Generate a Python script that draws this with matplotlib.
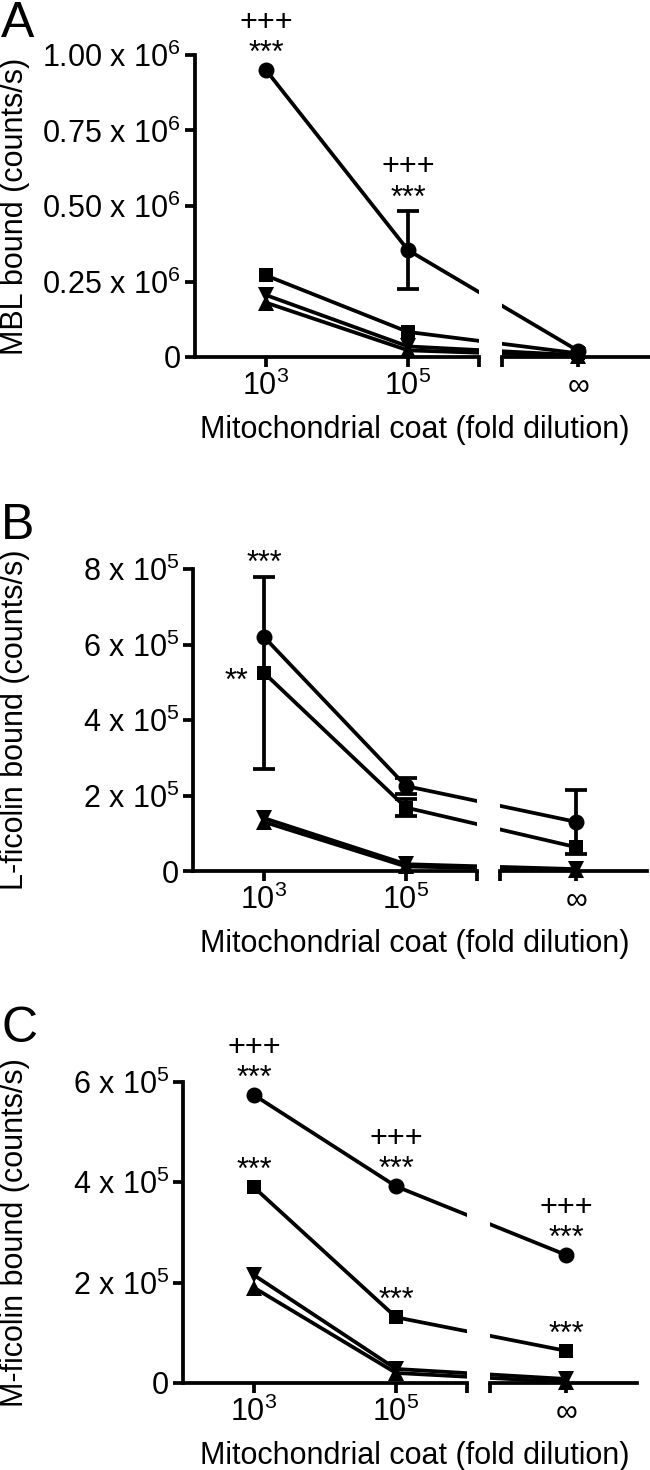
import matplotlib
matplotlib.use("Agg")
import matplotlib.pyplot as plt
import matplotlib.transforms as mtransforms

plt.rcParams["font.family"] = ["Liberation Sans", "DejaVu Sans"]
plt.rcParams["mathtext.fontset"] = "custom"
plt.rcParams["mathtext.rm"] = "Liberation Sans"
plt.rcParams["mathtext.it"] = "Liberation Sans:italic"
plt.rcParams["mathtext.bf"] = "Liberation Sans:bold"

# x positions in log10(fold dilution); the infinite dilution sits after the axis break
dilution_pos = [3, 5, 7.4]
dilution_labels = ["$10^3$", "$10^5$", "\u221e"]

# Panel A: MBL bound (counts/s)
mbl_circle = [0.95e6, 0.354e6, 0.02e6]
mbl_circle_err = [0, 0.128e6, 0]
mbl_square = [0.27e6, 0.083e6, 0.012e6]
mbl_tridown = [0.205e6, 0.035e6, 0.006e6]
mbl_triup = [0.18e6, 0.022e6, 0.003e6]
mbl_ticks = [0, 0.25e6, 0.5e6, 0.75e6, 1.0e6]
mbl_ticklabels = ["0", "0.25 x 10$^6$", "0.50 x 10$^6$", "0.75 x 10$^6$", "1.00 x 10$^6$"]

# Panel B: L-ficolin bound (counts/s)
lfc_circle = [6.2e5, 2.25e5, 1.3e5]
lfc_circle_err = [0, 0.22e5, 0.85e5]
lfc_square = [5.25e5, 1.68e5, 0.63e5]
lfc_square_err = [2.55e5, 0.22e5, 0]
lfc_tridown = [1.4e5, 0.18e5, 0.05e5]
lfc_triup = [1.3e5, 0.12e5, 0.03e5]
lfc_ticks = [0, 2e5, 4e5, 6e5, 8e5]
lfc_ticklabels = ["0", "2 x 10$^5$", "4 x 10$^5$", "6 x 10$^5$", "8 x 10$^5$"]

# Panel C: M-ficolin bound (counts/s)
mfc_circle = [5.74e5, 3.92e5, 2.55e5]
mfc_square = [3.9e5, 1.31e5, 0.64e5]
mfc_tridown = [2.15e5, 0.28e5, 0.08e5]
mfc_triup = [1.9e5, 0.2e5, 0.02e5]
mfc_ticks = [0, 2e5, 4e5, 6e5]
mfc_ticklabels = ["0", "2 x 10$^5$", "4 x 10$^5$", "6 x 10$^5$"]

FIG_W, FIG_H, DPI = 650, 1470, 100
X1_LIM = (2, 6)
X2_LIM = (6.33, 8.4)
PX_PER_UNIT = 71
LW = 2.7
FS = 22


def px2pt(px):
    return px * 72.0 / DPI


def make_axes(fig, left_px, zero_px, top_px, top_val):
    ylo, yhi = -0.07 * top_val, 1.03 * top_val
    s = (zero_px - top_px) / top_val
    bot_px = zero_px - ylo * s
    ax_top_px = top_px - (yhi - top_val) * s
    b = 1 - bot_px / FIG_H
    h = (bot_px - ax_top_px) / FIG_H
    w1 = (X1_LIM[1] - X1_LIM[0]) * PX_PER_UNIT / FIG_W
    left2 = left_px + (X2_LIM[0] - X1_LIM[0]) * PX_PER_UNIT
    w2 = (X2_LIM[1] - X2_LIM[0]) * PX_PER_UNIT / FIG_W
    ax1 = fig.add_axes([left_px / FIG_W, b, w1, h])
    ax2 = fig.add_axes([left2 / FIG_W, b, w2, h], sharey=ax1)
    ax1.set_ylim(ylo, yhi)
    ax1.set_xlim(*X1_LIM)
    ax2.set_xlim(*X2_LIM)
    for ax in (ax1, ax2):
        ax.patch.set_visible(False)
        for side in ("top", "right"):
            ax.spines[side].set_visible(False)
        ax.spines["bottom"].set_position(("data", 0))
        ax.spines["bottom"].set_linewidth(LW)
        ax.tick_params(direction="out", length=7, width=LW, labelsize=FS, pad=3)
    ax1.spines["left"].set_linewidth(LW)
    ax1.spines["left"].set_bounds(0, top_val)
    ax2.spines["left"].set_visible(False)
    ax2.tick_params(axis="y", left=False, labelleft=False)
    ax1.set_xticks([dilution_pos[0], dilution_pos[1], X1_LIM[1]])
    ax1.set_xticklabels([dilution_labels[0], dilution_labels[1], ""])
    ax2.set_xticks([X2_LIM[0], dilution_pos[2]])
    ax2.set_xticklabels(["", dilution_labels[2]])
    return ax1, ax2


def draw_series(axes, values, marker, ms, errs=None):
    for ax in axes:
        ax.plot(dilution_pos, values, color="k", lw=LW, marker=marker, ms=ms,
                markeredgewidth=0, solid_joinstyle="miter")
        if errs is not None:
            xs = [x for x, e in zip(dilution_pos, errs) if e > 0]
            ys = [v for v, e in zip(values, errs) if e > 0]
            es = [e for e in errs if e > 0]
            ax.errorbar(xs, ys, yerr=es, fmt="none", ecolor="k", elinewidth=LW,
                        capsize=8, capthick=LW)


def mark(ax, values, idx, texts, errs=None):
    # stars / crosses stacked above a point (or above its error bar)
    top = values[idx] + (errs[idx] if errs is not None else 0)
    base = 5 if errs is not None and errs[idx] > 0 else 8
    offsets = [base, base + 31]
    for txt, off in zip(texts, offsets):
        ax.annotate(txt, (dilution_pos[idx], top), xytext=(0, px2pt(off)),
                    textcoords="offset points", ha="center", va="baseline",
                    fontsize=FS, annotation_clip=False)


def panel(fig, letter, letter_top, left_px, zero_px, top_px, ticks, ticklabels, ylabel):
    top_val = ticks[-1]
    ax1, ax2 = make_axes(fig, left_px, zero_px, top_px, top_val)
    ax1.set_yticks(ticks)
    ax1.set_yticklabels(ticklabels)
    fig.text(1 / FIG_W, 1 - letter_top / FIG_H, letter, fontsize=36, ha="left", va="top")
    tr = mtransforms.blended_transform_factory(fig.transFigure, ax1.transData)
    fig.text(15 / FIG_W, top_val / 2, ylabel, rotation=90, ha="center", va="center",
             fontsize=FS, transform=tr)
    fig.text(415 / FIG_W, 1 - (zero_px + 73) / FIG_H, "Mitochondrial coat (fold dilution)",
             ha="center", va="center", fontsize=FS)
    return ax1, ax2


fig = plt.figure(figsize=(FIG_W / DPI, FIG_H / DPI), dpi=DPI)

# A
axA = panel(fig, "A", 1, 195, 357, 55, mbl_ticks, mbl_ticklabels, "MBL bound (counts/s)")
draw_series(axA, mbl_circle, "o", 11.5, mbl_circle_err)
draw_series(axA, mbl_square, "s", 10)
draw_series(axA, mbl_tridown, "v", 11)
draw_series(axA, mbl_triup, "^", 11)
mark(axA[0], mbl_circle, 0, ["***", "+++"])
mark(axA[0], mbl_circle, 1, ["***", "+++"], mbl_circle_err)

# B
axB = panel(fig, "B", 503, 193, 871, 569, lfc_ticks, lfc_ticklabels, "L-ficolin bound (counts/s)")
draw_series(axB, lfc_circle, "o", 11.5, lfc_circle_err)
draw_series(axB, lfc_square, "s", 10, lfc_square_err)
draw_series(axB, lfc_tridown, "v", 11)
draw_series(axB, lfc_triup, "^", 11)
mark(axB[0], lfc_square, 0, ["***"], lfc_square_err)
axB[0].annotate("**", (dilution_pos[0], lfc_square[0]), xytext=(px2pt(-16), px2pt(-17)),
                textcoords="offset points", ha="right", va="baseline", fontsize=FS)

# C
axC = panel(fig, "C", 1006, 183, 1383, 1082, mfc_ticks, mfc_ticklabels, "M-ficolin bound (counts/s)")
draw_series(axC, mfc_circle, "o", 11.5)
draw_series(axC, mfc_square, "s", 10)
draw_series(axC, mfc_tridown, "v", 11)
draw_series(axC, mfc_triup, "^", 11)
for i in range(3):
    mark(axC[0] if i < 2 else axC[1], mfc_circle, i, ["***", "+++"])
    mark(axC[0] if i < 2 else axC[1], mfc_square, i, ["***"])

fig.savefig("out.png", dpi=DPI)
